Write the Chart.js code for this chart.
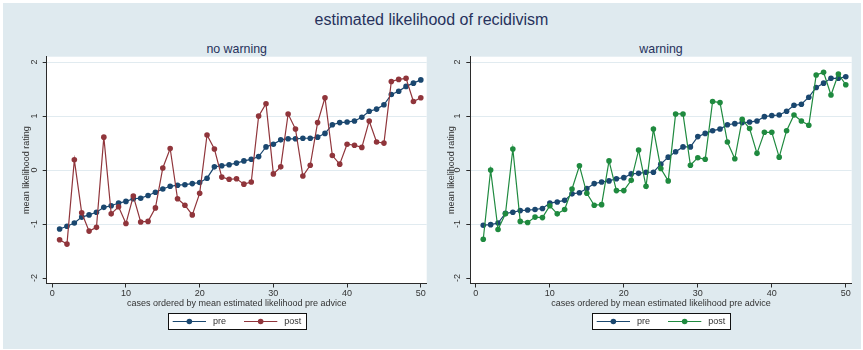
<!DOCTYPE html>
<html>
<head>
<meta charset="utf-8">
<script src="https://cdn.jsdelivr.net/npm/chart.js@4.4.1/dist/chart.umd.min.js"></script>
<style>
  html, body { margin: 0; padding: 0; background: #fff; }
  #page { position: relative; width: 863px; height: 350px; overflow: hidden; background: #fff;
          font-family: "Liberation Sans", Arial, sans-serif; }
  #bg { position: absolute; left: 3px; top: 3px; width: 858px; height: 346px; background: #dfeaef; }
  .ttl { position: absolute; white-space: nowrap; color: #27325c; transform: translateX(-50%); }
  #main { left: 431.5px; top: 12.2px; font-size: 16px; line-height: 16px; }
  .sub { top: 42.8px; font-size: 12.4px; line-height: 12.4px; }
  canvas { position: absolute; top: 0; }
</style>
</head>
<body>
<div id="page">
  <div id="bg"></div>
  <div id="main" class="ttl">estimated likelihood of recidivism</div>
  <div class="ttl sub" style="left:236.7px">no warning</div>
  <div class="ttl sub" style="left:661px">warning</div>
  <canvas id="panelNoWarning" width="436" height="350" style="left:0"></canvas>
  <canvas id="panelWarning" width="427" height="350" style="left:436px"></canvas>
</div>
<script>
// Cases, ordered by mean estimated likelihood before advice
const cases = [1, 2, 3, 4, 5, 6, 7, 8, 9, 10,
               11, 12, 13, 14, 15, 16, 17, 18, 19, 20,
               21, 22, 23, 24, 25, 26, 27, 28, 29, 30,
               31, 32, 33, 34, 35, 36, 37, 38, 39, 40,
               41, 42, 43, 44, 45, 46, 47, 48, 49, 50];

const seriesNames = ['pre', 'post'];
const xTicks = [0, 10, 20, 30, 40, 50];
const yTicks = [-2, -1, 0, 1, 2];

// Mean likelihood rating, "no warning" condition
const noWarningPre = [-1.09, -1.04, -0.98, -0.87, -0.83, -0.78, -0.69, -0.66, -0.61, -0.58,
                      -0.53, -0.52, -0.47, -0.41, -0.35, -0.30, -0.28, -0.27, -0.25, -0.23,
                      -0.15, 0.06, 0.08, 0.10, 0.13, 0.17, 0.20, 0.25, 0.43, 0.48,
                      0.56, 0.58, 0.58, 0.59, 0.59, 0.61, 0.68, 0.84, 0.88, 0.89,
                      0.91, 0.98, 1.09, 1.13, 1.21, 1.40, 1.46, 1.55, 1.61, 1.67];
const noWarningPost = [-1.29, -1.37, 0.19, -0.79, -1.13, -1.06, 0.61, -0.81, -0.68, -0.99,
                       -0.48, -0.96, -0.95, -0.70, 0.04, 0.40, -0.53, -0.65, -0.83, -0.43,
                       0.65, 0.39, -0.13, -0.17, -0.16, -0.26, -0.22, 1.00, 1.23, -0.07,
                       0.06, 1.04, 0.76, -0.11, 0.09, 0.88, 1.34, 0.27, 0.11, 0.48,
                       0.46, 0.42, 0.91, 0.52, 0.50, 1.64, 1.68, 1.70, 1.27, 1.34];

// Mean likelihood rating, "warning" condition
const warningPre = [-1.02, -1.01, -0.98, -0.80, -0.78, -0.75, -0.74, -0.73, -0.71, -0.61,
                    -0.59, -0.56, -0.44, -0.42, -0.34, -0.25, -0.22, -0.20, -0.16, -0.14,
                    -0.07, -0.06, -0.04, -0.04, 0.11, 0.24, 0.34, 0.43, 0.43, 0.62,
                    0.68, 0.73, 0.76, 0.84, 0.86, 0.88, 0.89, 0.91, 0.99, 1.01,
                    1.02, 1.09, 1.20, 1.22, 1.35, 1.53, 1.61, 1.70, 1.70, 1.73];
const warningPost = [-1.28, 0.00, -1.10, -0.81, 0.39, -0.95, -0.97, -0.87, -0.88, -0.66,
                     -0.81, -0.73, -0.35, 0.08, -0.43, -0.65, -0.64, 0.17, -0.38, -0.38,
                     -0.19, 0.37, -0.30, 0.76, 0.03, -0.20, 1.04, 1.04, 0.09, 0.23,
                     0.20, 1.27, 1.25, 0.52, 0.21, 0.94, 0.77, 0.31, 0.70, 0.70,
                     0.24, 0.73, 1.02, 0.91, 0.83, 1.76, 1.81, 1.39, 1.78, 1.58];

const xTitle = 'cases ordered by mean estimated likelihood pre advice';
const yTitle = 'mean likelihood rating';

const FONT = '"Liberation Sans", Arial, sans-serif';
const INK = '#333333';
const AXIS = '#2b2b2b';
const GRID = '#e1ebf0';
const NAVY = '#1a476f';
const MAROON = '#90353b';
const GREEN = '#1f8a3f';

// White plot region behind grid and data
const plotBackground = {
  id: 'plotBackground',
  beforeDraw(chart) {
    const { ctx, chartArea: a } = chart;
    ctx.save();
    ctx.fillStyle = '#ffffff';
    ctx.fillRect(a.left, a.top, a.right - a.left, a.bottom - a.top);
    ctx.restore();
  }
};

// Framed legend under the x-axis title: line + marker key per series
const boxedLegend = {
  id: 'boxedLegend',
  afterDraw(chart, args, opts) {
    const { ctx, chartArea: a } = chart;
    ctx.save();
    ctx.font = opts.fontSize + 'px ' + FONT;
    const items = chart.data.datasets.map(d => ({
      label: d.label, color: d.borderColor, w: ctx.measureText(d.label).width
    }));
    const lineLen = 33.3, gapText = 7, gapItem = 18, pad = 4.7;
    const total = pad * 2 + items.reduce((s, it) => s + lineLen + gapText + it.w, 0) + gapItem * (items.length - 1);
    const x0 = Math.round((a.left + a.right) / 2 - total / 2);
    const y0 = opts.top, h = opts.height;
    ctx.fillStyle = '#ffffff';
    ctx.fillRect(x0, y0, total, h);
    ctx.strokeStyle = '#111111';
    ctx.lineWidth = 1;
    ctx.strokeRect(x0 + 0.5, y0 + 0.5, Math.round(total), h);
    let x = x0 + pad;
    const ym = y0 + h / 2 + 0.5;
    items.forEach(it => {
      ctx.strokeStyle = it.color;
      ctx.lineWidth = 1.2;
      ctx.beginPath();
      ctx.moveTo(x, ym);
      ctx.lineTo(x + lineLen, ym);
      ctx.stroke();
      ctx.fillStyle = it.color;
      ctx.beginPath();
      ctx.arc(x + lineLen / 2, ym, 2.8, 0, Math.PI * 2);
      ctx.fill();
      x += lineLen + gapText;
      ctx.fillStyle = INK;
      ctx.textBaseline = 'middle';
      ctx.textAlign = 'left';
      ctx.fillText(it.label, x, ym);
      x += it.w + gapItem;
    });
    ctx.restore();
  }
};

function makePanel(id, canvasLeft, area, pre, post, postColor) {
  const canvas = document.getElementById(id);
  const W = canvas.width, H = canvas.height;
  const xAxisHeight = 30;
  const yAxisWidth = area.left - canvasLeft;
  const font = { family: FONT, size: 9 };
  return new Chart(canvas, {
    type: 'line',
    data: {
      datasets: [
        { label: seriesNames[0], data: cases.map((c, i) => ({ x: c, y: pre[i] })),
          borderColor: NAVY, backgroundColor: NAVY, pointBackgroundColor: NAVY, order: 1 },
        { label: seriesNames[1], data: cases.map((c, i) => ({ x: c, y: post[i] })),
          borderColor: postColor, backgroundColor: postColor, pointBackgroundColor: postColor, order: 0 }
      ]
    },
    options: {
      responsive: false,
      animation: false,
      devicePixelRatio: 1,
      events: [],
      layout: { padding: { left: 0, right: canvasLeft + W - area.right, top: area.top, bottom: H - area.bottom - xAxisHeight } },
      elements: {
        line: { borderWidth: 1.2, tension: 0 },
        point: { radius: 2.8, borderWidth: 0, hoverRadius: 2.8 }
      },
      plugins: {
        legend: { display: false },
        tooltip: { enabled: false },
        boxedLegend: { top: 313, height: 16, fontSize: 9 }
      },
      scales: {
        x: {
          type: 'linear', bounds: 'data', min: -0.75, max: 50.8,
          afterBuildTicks(s) { s.ticks = xTicks.map(v => ({ value: v })); },
          afterFit(s) { s.height = xAxisHeight; },
          grid: { drawOnChartArea: false, tickLength: 4, tickColor: AXIS, tickWidth: 1 },
          border: { color: AXIS, width: 1 },
          ticks: { padding: 1, color: INK, font, minRotation: 0, maxRotation: 0 },
          title: { display: true, text: xTitle, color: INK, font, padding: { top: 0, bottom: 4.6 } }
        },
        y: {
          type: 'linear', bounds: 'data', min: -2.1, max: 2.1,
          afterBuildTicks(s) { s.ticks = yTicks.map(v => ({ value: v })); },
          afterFit(s) { s.width = yAxisWidth; },
          grid: {
            color: c => (c.tick && c.tick.value === -2) ? 'rgba(0,0,0,0)' : GRID,
            tickLength: 4, tickColor: AXIS, tickWidth: 1
          },
          border: { color: AXIS, width: 1 },
          ticks: { padding: 4.5, minRotation: 90, maxRotation: 90, crossAlign: 'center', color: INK, font },
          title: { display: true, text: yTitle, color: INK, font,
                   padding: { top: area.titleX - canvasLeft - 5.4, bottom: 0 } }
        }
      }
    },
    plugins: [plotBackground, boxedLegend]
  });
}

makePanel('panelNoWarning', 0,
  { left: 46.7, right: 426.7, top: 56.7, bottom: 283.5, titleX: 26.7 },
  noWarningPre, noWarningPost, MAROON);
makePanel('panelWarning', 436,
  { left: 470.3, right: 851.7, top: 56.7, bottom: 283.5, titleX: 451.2 },
  warningPre, warningPost, GREEN);
</script>
</body>
</html>
